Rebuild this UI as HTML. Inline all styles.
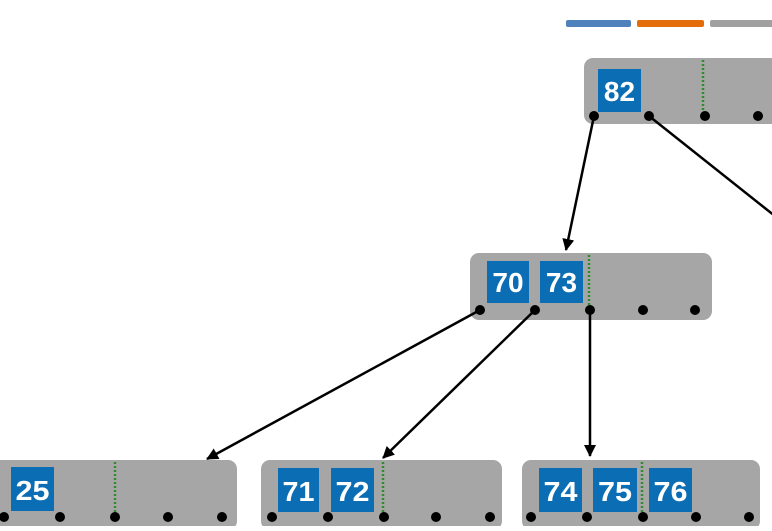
<!DOCTYPE html>
<html><head><style>
body{margin:0;width:772px;height:526px;overflow:hidden;background:#fff;font-family:"Liberation Sans",sans-serif}
</style></head><body>
<svg width="772" height="526" xmlns="http://www.w3.org/2000/svg">
<defs><marker id="a" markerWidth="12" markerHeight="12" refX="11" refY="6" orient="auto" markerUnits="userSpaceOnUse"><path d="M0,0 L12,6 L0,12 z" fill="#000"/></marker></defs>
<rect x="566" y="20" width="65" height="7" rx="2" fill="#4f81bd"/>
<rect x="637" y="20" width="67" height="7" rx="2" fill="#e46c0a"/>
<rect x="710" y="20" width="70" height="7" rx="2" fill="#a0a0a0"/>
<g fill="#a6a6a6">
<rect x="584" y="58" width="220" height="66" rx="9"/>
<rect x="470" y="253" width="242" height="67" rx="9"/>
<rect x="-20" y="460" width="257" height="70" rx="9"/>
<rect x="261" y="460" width="241" height="70" rx="9"/>
<rect x="522" y="460" width="238" height="70" rx="9"/>
</g>
<g fill="#0b6db3">
<rect x="598" y="69" width="43" height="43"/>
<rect x="487" y="261" width="42" height="42"/>
<rect x="540" y="261" width="43" height="42"/>
<rect x="11" y="467" width="43" height="44"/>
<rect x="278" y="468" width="41" height="44"/>
<rect x="331" y="468" width="43" height="44"/>
<rect x="539" y="468" width="43" height="44"/>
<rect x="593" y="468" width="44" height="44"/>
<rect x="649" y="468" width="43" height="44"/>
</g>
<g fill="#fff" font-size="28" font-weight="bold" text-anchor="middle" font-family="Liberation Sans,sans-serif">
<text x="619.5" y="101">82</text>
<text x="508" y="292">70</text>
<text x="561.5" y="292">73</text>
<text x="32.5" y="500" textLength="34" lengthAdjust="spacingAndGlyphs">25</text>
<text x="298.5" y="501" textLength="32" lengthAdjust="spacingAndGlyphs">71</text>
<text x="352.5" y="501" textLength="34" lengthAdjust="spacingAndGlyphs">72</text>
<text x="560.5" y="501" textLength="34" lengthAdjust="spacingAndGlyphs">74</text>
<text x="615" y="501" textLength="34" lengthAdjust="spacingAndGlyphs">75</text>
<text x="670.5" y="501" textLength="34" lengthAdjust="spacingAndGlyphs">76</text>
</g>
<g stroke="#2e8b2e" stroke-width="2.5" stroke-dasharray="2,2">
<line x1="703" y1="60" x2="703" y2="112"/>
<line x1="589" y1="255" x2="589" y2="306"/>
<line x1="115" y1="462" x2="115" y2="514"/>
<line x1="383" y1="462" x2="383" y2="514"/>
<line x1="642" y1="462" x2="642" y2="514"/>
</g>
<g stroke="#000" stroke-width="2.5" marker-end="url(#a)">
<line x1="594" y1="116" x2="566" y2="250"/>
<line x1="649" y1="116" x2="790" y2="228"/>
<line x1="480" y1="310" x2="207" y2="459"/>
<line x1="535" y1="310" x2="383" y2="458"/>
<line x1="590" y1="310" x2="590" y2="456"/>
</g>
<g fill="#000">
<circle cx="594" cy="116" r="5"/><circle cx="649" cy="116" r="5"/><circle cx="705" cy="116" r="5"/><circle cx="758" cy="116" r="5"/>
<circle cx="480" cy="310" r="5"/><circle cx="535" cy="310" r="5"/><circle cx="590" cy="310" r="5"/><circle cx="643" cy="310" r="5"/><circle cx="695" cy="310" r="5"/>
<circle cx="4" cy="517" r="5"/><circle cx="60" cy="517" r="5"/><circle cx="115" cy="517" r="5"/><circle cx="168" cy="517" r="5"/><circle cx="222" cy="517" r="5"/>
<circle cx="272" cy="517" r="5"/><circle cx="328" cy="517" r="5"/><circle cx="384" cy="517" r="5"/><circle cx="436" cy="517" r="5"/><circle cx="490" cy="517" r="5"/>
<circle cx="531" cy="517" r="5"/><circle cx="587" cy="517" r="5"/><circle cx="643" cy="517" r="5"/><circle cx="696" cy="517" r="5"/><circle cx="749" cy="517" r="5"/>
</g>
</svg>
</body></html>
